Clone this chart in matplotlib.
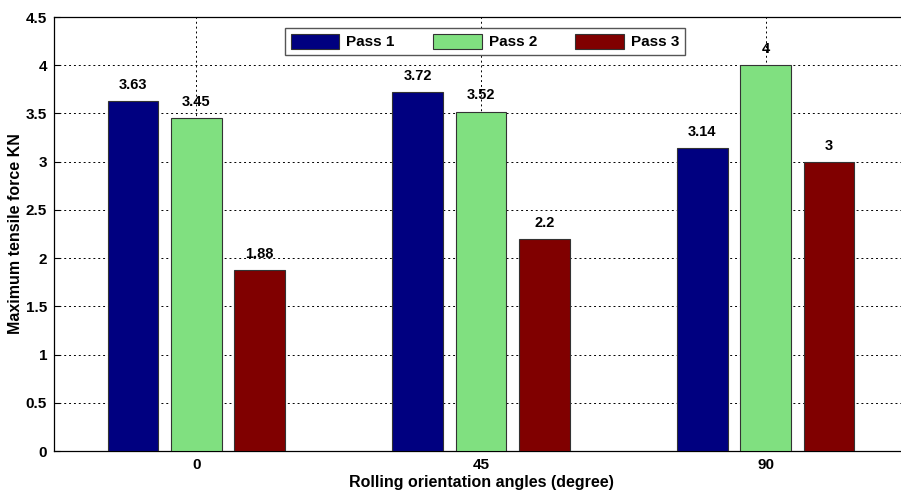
import numpy as np
import matplotlib
matplotlib.use('Agg')
import matplotlib.pyplot as plt

# Maximum tensile force per pass at each rolling orientation
angles = ['0', '45', '90']
series_names = ['Pass 1', 'Pass 2', 'Pass 3']
pass1 = [3.63, 3.72, 3.14]
pass2 = [3.45, 3.52, 4.0]
pass3 = [1.88, 2.2, 3.0]
colors = ['#000080', '#80E080', '#800000']

plt.rcParams['font.family'] = ['Liberation Sans', 'DejaVu Sans']
plt.rcParams['font.weight'] = 'bold'

fig = plt.figure(figsize=(9.01, 4.98), dpi=100)
ax = fig.add_axes([54/901, 1 - 451/498, (908 - 54)/901, (451 - 17)/498])

x = np.arange(len(angles))
spacing = 0.2222
width = 0.178
for i, (vals, name, c) in enumerate(zip([pass1, pass2, pass3], series_names, colors)):
    pos = x + (i - 1) * spacing
    ax.bar(pos, vals, width, color=c, edgecolor='#333333', linewidth=0.8,
           label=name, zorder=3)
    for px, v in zip(pos, vals):
        ax.annotate(f'{v:g}', (px, v), xytext=(0, 6.5), textcoords='offset points',
                    ha='center', va='bottom', fontsize=10.5, fontweight='bold')

ax.set_xlim(-0.5, 2.5)
ax.set_ylim(0, 4.5)
ax.set_xticks(x)
ax.set_xticklabels(angles)
ax.set_yticks(np.arange(0, 4.51, 0.5))
ax.set_yticklabels([f'{t:g}' for t in np.arange(0, 4.51, 0.5)])
ax.tick_params(direction='in', length=4, labelsize=11, pad=5)
ax.grid(True, linestyle=(0, (2, 3)), color='black', linewidth=0.7, zorder=0)
ax.set_axisbelow(True)
for s in ax.spines.values():
    s.set_linewidth(0.9)

ax.set_xlabel('Rolling orientation angles (degree)', fontsize=11.5, fontweight='bold', labelpad=2)
ax.set_ylabel('Maximum tensile force KN', fontsize=11.5, fontweight='bold')
ax.yaxis.set_label_coords(-0.0365, 0.5)

leg = ax.legend(loc='center', bbox_to_anchor=(0.5047, 0.9435),
                ncol=3, fancybox=False, edgecolor='#555555', framealpha=1,
                handlelength=3.2, handleheight=1.15, columnspacing=2.5,
                handletextpad=0.45, borderpad=0.35, borderaxespad=0,
                prop={'weight': 'bold', 'size': 11})
leg.get_frame().set_linewidth(1.0)

fig.savefig('out.png', dpi=100)
